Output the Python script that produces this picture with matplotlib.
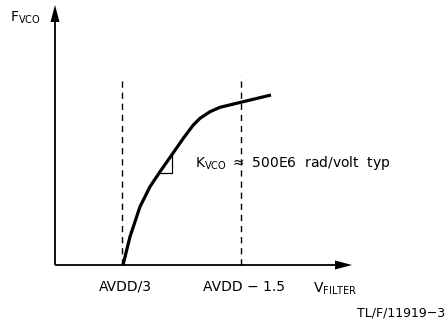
import numpy as np
import matplotlib
matplotlib.use("Agg")
import matplotlib.pyplot as plt

plt.rcParams['font.family'] = ['DejaVu Sans']
plt.rcParams['mathtext.fontset'] = 'dejavusans'

# VCO transfer curve (arbitrary units, origin at the axes corner)
vfilter = [68, 75, 85, 95, 105, 116.7, 128.3, 138.3, 145, 155, 165, 187, 216]
fvco = [0, 28.3, 58.3, 78.3, 93.3, 110, 126.7, 140, 146.7, 153.3, 157.7, 163, 170]

# dashed markers on the V axis
marks_x = [67, 186]
marks_top = [185, 189]
mark_labels = ["AVDD/3", "AVDD \u2212 1.5"]

# slope triangle
tri_x = [104.3, 116.7, 116.7]
tri_y = [91.7, 91.7, 110]

x_end = 297
y_end = 260

fig = plt.figure(figsize=(4.48, 3.2), dpi=100)
ax = fig.add_axes([0, 0, 1, 1])
ax.set_xlim(-55, 393)
ax.set_ylim(-55, 265)
ax.axis('off')

# axes with arrows
ax.plot([0, x_end - 14], [0, 0], color='black', lw=1.3, solid_capstyle='butt')
ax.plot([0, 0], [0, y_end - 14], color='black', lw=1.3, solid_capstyle='butt')
ax.fill([x_end, x_end - 17, x_end - 17], [0, 4.5, -4.5], color='black', lw=0)
ax.fill([0, -4.5, 4.5], [y_end, y_end - 17, y_end - 17], color='black', lw=0)

for mx, mt in zip(marks_x, marks_top):
    ax.plot([mx, mx], [0, mt], color='black', lw=1.0, dashes=(4.5, 3.5))

ax.plot(vfilter, fvco, color='black', lw=2.3, solid_capstyle='butt',
        solid_joinstyle='round')
ax.plot(tri_x, tri_y, color='black', lw=0.9)

ax.text(-45, 247, r"F$_{\rm VCO}$", fontsize=10, ha='left', va='center')
ax.text(140, 102, r"K$_{\rm VCO}$ $\approx$ 500E6  rad/volt  typ",
        fontsize=10, ha='left', va='center')
for mx, lab in zip(marks_x, mark_labels):
    ax.text(mx + 3, -22, lab, fontsize=10, ha='center', va='center')
ax.text(258, -24, r"V$_{\rm FILTER}$", fontsize=10, ha='left', va='center')
ax.text(390, -48, "TL/F/11919\u22123", fontsize=9, ha='right', va='center')

fig.savefig("out.png", dpi=100)
